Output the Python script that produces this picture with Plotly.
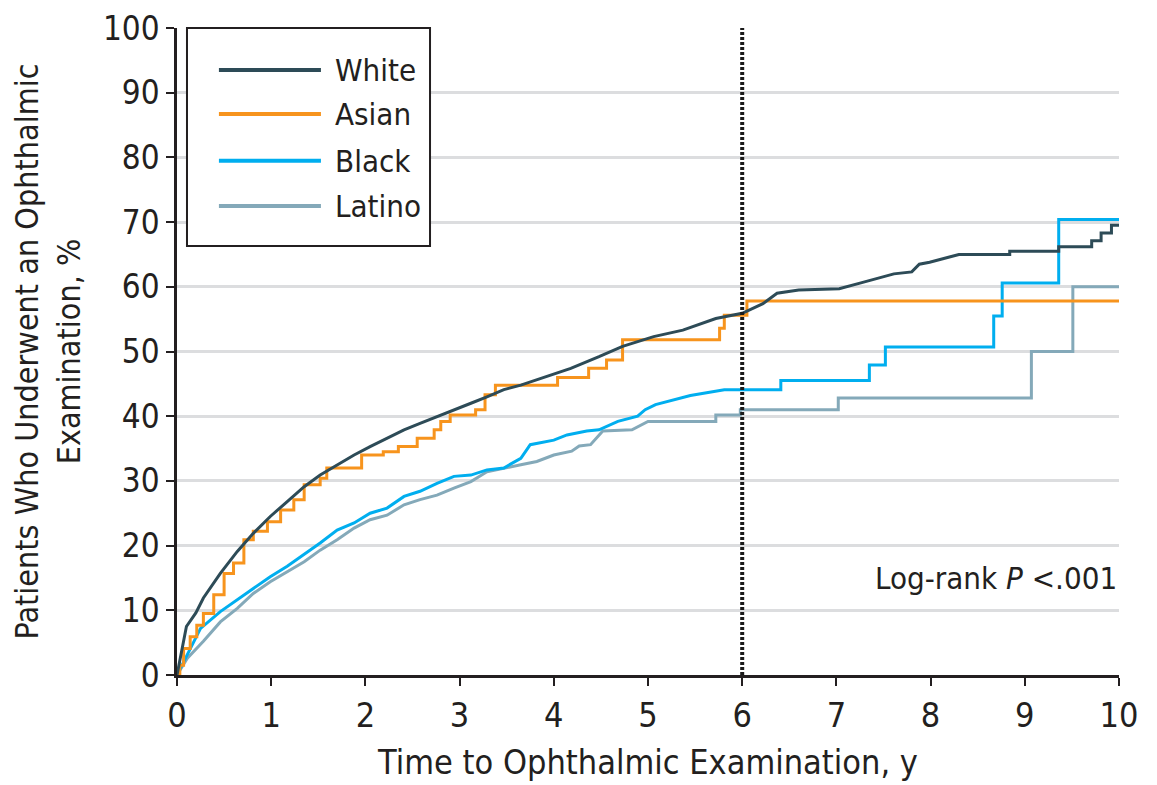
import plotly.graph_objects as go

# ---------------- data ----------------
white_t = [0, 0.1, 0.2, 0.28, 0.46, 0.64, 0.81, 0.99, 1.17, 1.35, 1.52, 1.7, 1.88, 2.05, 2.23,
           2.41, 2.58, 2.76, 2.94, 3.12, 3.29, 3.47, 3.65, 3.82, 4.0, 4.18, 4.48, 4.73, 5.06,
           5.37, 5.72, 6.0, 6.22, 6.37, 6.6, 7.03, 7.26, 7.49, 7.61, 7.8, 7.88, 7.99, 8.19,
           8.3, 8.84, 8.84, 9.36, 9.36, 9.71, 9.71, 9.81, 9.81, 9.92, 9.92, 10]
white_pct = [0, 7.5, 9.6, 11.9, 15.7, 19.1, 21.9, 24.5, 26.8, 29.1, 30.9, 32.5, 34.0, 35.3, 36.6,
             37.9, 38.9, 39.9, 41.0, 42.0, 43.0, 44.1, 44.8, 45.6, 46.5, 47.4, 49.2, 50.8, 52.3,
             53.3, 55.1, 55.9, 57.4, 59.0, 59.5, 59.7, 60.6, 61.5, 62.0, 62.3, 63.5, 63.8, 64.6,
             65.0, 65.0, 65.5, 65.5, 66.2, 66.2, 67.1, 67.1, 68.3, 68.3, 69.5, 69.5]

asian_t = [0, 0.03, 0.07, 0.14, 0.21, 0.28, 0.39, 0.5, 0.6, 0.71, 0.81, 0.96, 1.1, 1.24, 1.35,
           1.52, 1.59, 1.96, 2.19, 2.35, 2.55, 2.73, 2.8, 2.9, 3.17, 3.27, 3.38, 4.04, 4.37,
           4.56, 4.73, 5.76, 5.81, 6.05, 10]
asian_pct = [0, 1.5, 4.1, 5.9, 7.7, 9.5, 12.4, 15.7, 17.3, 20.9, 22.2, 23.7, 25.5, 27.1, 29.4,
             30.4, 32.0, 34.0, 34.5, 35.3, 36.6, 37.9, 39.2, 40.2, 41.0, 43.3, 44.8, 46.0, 47.4,
             48.7, 51.8, 53.6, 55.6, 57.8, 57.8]

black_t = [0, 0.11, 0.25, 0.46, 0.64, 0.81, 0.99, 1.17, 1.35, 1.52, 1.7, 1.88, 2.05, 2.23, 2.41,
           2.58, 2.76, 2.94, 3.12, 3.29, 3.47, 3.65, 3.75, 3.82, 4.0, 4.14, 4.35, 4.48, 4.68,
           4.89, 4.97, 5.08, 5.22, 5.45, 5.81, 6.41, 6.41, 7.35, 7.35, 7.52, 7.52, 8.67, 8.67,
           8.76, 8.76, 9.36, 9.36, 10]
black_pct = [0, 3.1, 7.2, 9.8, 11.6, 13.4, 15.2, 16.8, 18.6, 20.4, 22.4, 23.5, 25.0, 25.8, 27.6,
             28.4, 29.6, 30.7, 30.9, 31.7, 32.0, 33.5, 35.6, 35.8, 36.3, 37.1, 37.7, 37.9, 39.2,
             40.0, 41.0, 41.8, 42.3, 43.2, 44.1, 44.1, 45.5, 45.5, 47.9, 47.9, 50.7, 50.7, 55.5,
             55.5, 60.6, 60.6, 70.4, 70.4]

latino_t = [0, 0.11, 0.28, 0.46, 0.64, 0.81, 0.99, 1.17, 1.35, 1.52, 1.7, 1.88, 2.05, 2.23,
            2.41, 2.58, 2.76, 2.94, 3.12, 3.29, 3.47, 3.65, 3.82, 4.0, 4.19, 4.27, 4.39, 4.52,
            4.83, 5.0, 5.72, 5.72, 5.98, 5.98, 7.02, 7.02, 9.07, 9.07, 9.51, 9.51, 10]
latino_pct = [0, 2.6, 5.2, 8.2, 10.3, 12.6, 14.4, 16.0, 17.5, 19.3, 20.9, 22.7, 24.0, 24.7,
              26.3, 27.1, 27.8, 28.9, 29.9, 31.4, 32.0, 32.5, 33.0, 34.0, 34.6, 35.4, 35.6, 37.7,
              37.9, 39.2, 39.2, 40.2, 40.2, 41.0, 41.0, 42.8, 42.8, 50.0, 50.0, 60.0, 60.0]

series_names = ["White", "Asian", "Black", "Latino"]
x_ticks = [0, 1, 2, 3, 4, 5, 6, 7, 8, 9, 10]
y_ticks = [0, 10, 20, 30, 40, 50, 60, 70, 80, 90, 100]
cutoff_year = 6
annotation_y = 15

# ---------------- styling ----------------
FONT = "DejaVu Sans Condensed, DejaVu Sans, sans-serif"
TXT = "#231f20"
colors = ["#2d4b57", "#f7941d", "#00aeef", "#84a9b9"]
shapes_line = ["linear", "hv", "linear", "linear"]
xs = [white_t, asian_t, black_t, latino_t]
ys = [white_pct, asian_pct, black_pct, latino_pct]

fig = go.Figure()
# draw order: Latino bottom, White on top
for i in reversed(range(4)):
    fig.add_trace(go.Scatter(x=xs[i], y=ys[i], mode="lines", name=series_names[i],
                             showlegend=False,
                             line=dict(color=colors[i], width=3, shape=shapes_line[i])))

fig.add_vline(x=cutoff_year, line=dict(color="#1a1a1a", width=4, dash="3px,2px"))

fig.add_annotation(x=1, xref="paper", y=annotation_y, yref="y", xanchor="right",
                   yanchor="middle", showarrow=False,
                   text="Log-rank <i>P</i> <.001", font=dict(size=31, color=TXT, family=FONT))

# ----- legend box (drawn in paper coordinates) -----
leg_x0, leg_x1, leg_y0, leg_y1 = 0.0106, 0.2686, 0.663, 1.0
fig.add_shape(type="rect", xref="paper", yref="paper", x0=leg_x0, x1=leg_x1,
              y0=leg_y0, y1=leg_y1, line=dict(color="#231f20", width=2),
              fillcolor="white", layer="above")
row_y = [0.935, 0.867, 0.795, 0.725]
for i in range(4):
    fig.add_shape(type="line", xref="paper", yref="paper", x0=0.0445, x1=0.1528,
                  y0=row_y[i], y1=row_y[i], line=dict(color=colors[i], width=4),
                  layer="above")
    fig.add_annotation(x=0.1656, xref="paper", y=row_y[i], yref="paper", xanchor="left",
                       yanchor="middle", showarrow=False, text=series_names[i],
                       font=dict(size=31, color=TXT, family=FONT))

fig.update_layout(
    width=1157, height=785,
    margin=dict(l=169, r=46, t=20, b=118, autoexpand=False),
    paper_bgcolor="white", plot_bgcolor="white",
    font=dict(family=FONT, color=TXT, size=33),
    showlegend=False,
    xaxis=dict(range=[0, 10], tickvals=x_ticks, ticks="outside", ticklen=8, tickwidth=2,
               tickcolor="#231f20", showline=True, linecolor="#231f20", linewidth=2.5,
               showgrid=False, zeroline=False, tickfont=dict(size=34), automargin=False,
               ticklabeloverflow="allow",
               title=dict(text="Time to Ophthalmic Examination, y", font=dict(size=34),
                          standoff=17)),
    yaxis=dict(range=[0, 100], tickvals=y_ticks, ticks="outside", ticklen=8, tickwidth=2,
               tickcolor="#231f20", showline=True, linecolor="#231f20", linewidth=2.5,
               showgrid=True, gridcolor="#dcdddf", gridwidth=3, zeroline=False,
               tickfont=dict(size=33), automargin=False, ticklabeloverflow="allow",
               title=dict(text="Patients Who Underwent an Ophthalmic<br>Examination, %",
                          font=dict(size=32), standoff=32)),
)

fig.write_html("out.html")
